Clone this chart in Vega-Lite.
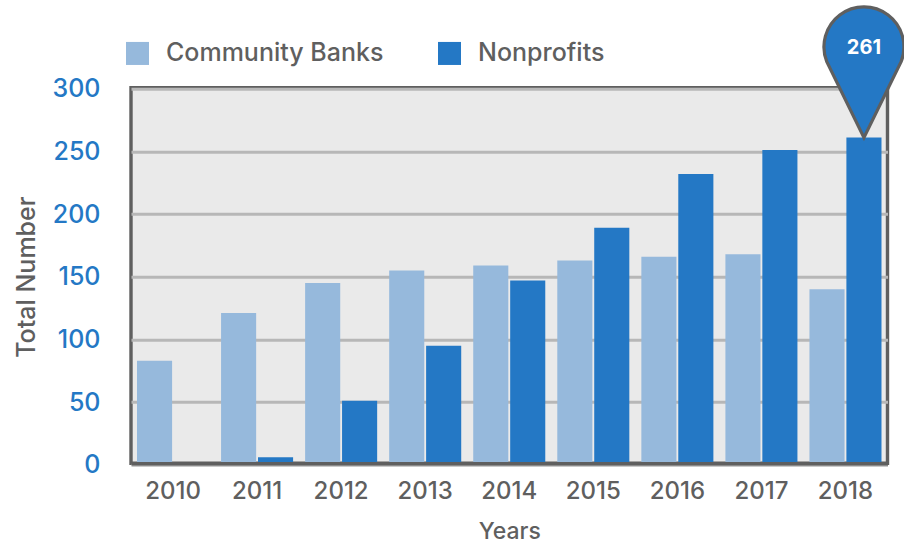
{
  "$schema": "https://vega.github.io/schema/vega-lite/v6.json",
  "width": 756.5,
  "height": 375.5,
  "autosize": "none",
  "padding": {"left": 131, "top": 87.7, "right": 16.5, "bottom": 81.8},
  "background": "#ffffff",
  "view": {"fill": "#eaeaea", "stroke": "#5f5f5f", "strokeWidth": 3.4},
  "config": {"font": "Inter"},
  "data": {
    "values": [
      {"year": "2010", "group": "Community Banks", "total": 83},
      {"year": "2010", "group": "Nonprofits", "total": 0},
      {"year": "2011", "group": "Community Banks", "total": 121},
      {"year": "2011", "group": "Nonprofits", "total": 6},
      {"year": "2012", "group": "Community Banks", "total": 145},
      {"year": "2012", "group": "Nonprofits", "total": 51},
      {"year": "2013", "group": "Community Banks", "total": 155},
      {"year": "2013", "group": "Nonprofits", "total": 95},
      {"year": "2014", "group": "Community Banks", "total": 159},
      {"year": "2014", "group": "Nonprofits", "total": 147},
      {"year": "2015", "group": "Community Banks", "total": 163},
      {"year": "2015", "group": "Nonprofits", "total": 189},
      {"year": "2016", "group": "Community Banks", "total": 166},
      {"year": "2016", "group": "Nonprofits", "total": 232},
      {"year": "2017", "group": "Community Banks", "total": 168},
      {"year": "2017", "group": "Nonprofits", "total": 251},
      {"year": "2018", "group": "Community Banks", "total": 140},
      {"year": "2018", "group": "Nonprofits", "total": 261}
    ]
  },
  "encoding": {
    "x": {
      "field": "year",
      "type": "nominal",
      "scale": {"paddingInner": 0.143, "paddingOuter": 0.0715},
      "axis": {
        "title": "Years",
        "titleFont": "Inter",
        "titleFontSize": 23,
        "titleFontWeight": 500,
        "titleColor": "#5f5f5f",
        "titlePadding": 17,
        "labelAngle": 0,
        "labelFont": "Inter",
        "labelFontSize": 24,
        "labelFontWeight": 500,
        "labelColor": "#5f5f5f",
        "labelPadding": 16,
        "ticks": false,
        "domainColor": "#5f5f5f",
        "domainWidth": 3.4,
        "zindex": 1
      }
    },
    "xOffset": {
      "field": "group",
      "type": "nominal",
      "scale": {"domain": ["Community Banks", "Nonprofits"], "paddingInner": 0.05}
    },
    "y": {
      "field": "total",
      "type": "quantitative",
      "scale": {"domain": [0, 300], "range": [377, 1]},
      "axis": {
        "title": "Total Number",
        "titleFont": "Inter",
        "titleFontSize": 25,
        "titleFontWeight": 500,
        "titleColor": "#5f5f5f",
        "titlePadding": 13,
        "values": [0, 50, 100, 150, 200, 250, 300],
        "labelFont": "Inter",
        "labelFontSize": 25,
        "labelFontWeight": 500,
        "labelColor": "#2478c5",
        "labelPadding": 31,
        "ticks": false,
        "domain": false,
        "grid": true,
        "gridColor": "#b7b7b7",
        "gridWidth": 3
      }
    }
  },
  "layer": [
    {
      "mark": {"type": "bar"},
      "encoding": {
        "color": {
          "field": "group",
          "type": "nominal",
          "scale": {"domain": ["Community Banks", "Nonprofits"], "range": ["#96b9dc", "#2478c5"]},
          "legend": {
            "title": null,
            "orient": "none",
            "legendX": -6,
            "legendY": -47,
            "direction": "horizontal",
            "symbolType": "square",
            "symbolSize": 530,
            "symbolStrokeWidth": 0,
            "labelFont": "Inter",
            "labelFontSize": 25,
            "labelFontWeight": 500,
            "labelColor": "#5f5f5f",
            "labelOffset": 16,
            "labelLimit": 300,
            "columnPadding": 53
          }
        }
      }
    },
    {
      "transform": [{"filter": "datum.year === '2018' && datum.group === 'Nonprofits'"}],
      "mark": {
        "type": "point",
        "filled": true,
        "fill": "#2478c5",
        "stroke": "#5f5f5f",
        "strokeWidth": 3.2,
        "opacity": 1,
        "size": 6400,
        "clip": false,
        "shape": "M0 0 L-0.93 -1.9 A1 1 0 1 1 0.93 -1.9 Z"
      }
    },
    {
      "transform": [{"filter": "datum.year === '2018' && datum.group === 'Nonprofits'"}],
      "mark": {
        "type": "text",
        "color": "#ffffff",
        "font": "Inter",
        "fontSize": 20,
        "fontWeight": 700,
        "align": "center",
        "baseline": "middle",
        "dy": -90
      },
      "encoding": {"text": {"field": "total", "type": "quantitative"}}
    }
  ]
}
